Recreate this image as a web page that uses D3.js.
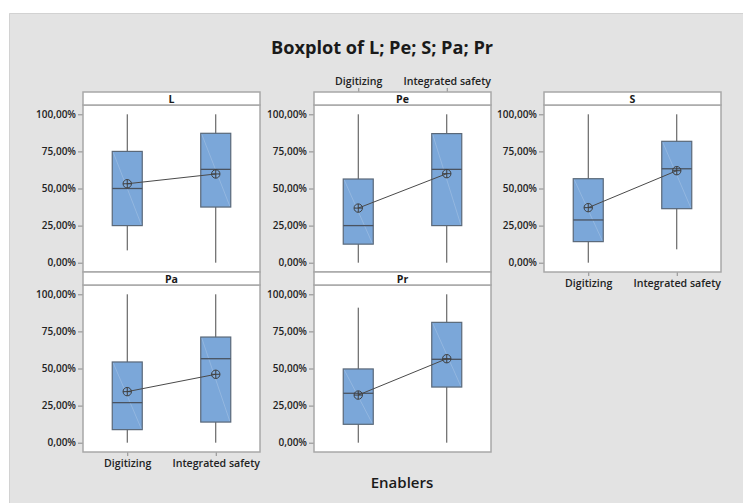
<!DOCTYPE html>
<html>
<head>
<meta charset="utf-8">
<script src="https://cdn.jsdelivr.net/npm/d3@7"></script>
<style>
  html, body { margin: 0; padding: 0; background: #ffffff; }
  svg { display: block; }
  text { font-family: "Open Sans", "Noto Sans", sans-serif; }
</style>
</head>
<body>
<svg id="chart" width="743" height="503"></svg>
<script>
// Groups on the x axis
const categories = ["Digitizing", "Integrated safety"];
// Panels, in drawing order
const panels = ["L", "Pe", "S", "Pa", "Pr"];
// Box statistics per panel, one entry per category (percent)
const whiskerLow  = { L: [8.3, 0],    Pe: [0, 0],     S: [0, 9.0],     Pa: [0, 0],     Pr: [0, 0] };
const q1          = { L: [25, 37.5],  Pe: [12.5, 25], S: [14.2, 36.4], Pa: [8.8, 13.9], Pr: [12.4, 37.5] };
const median      = { L: [50, 62.9],  Pe: [25, 62.9], S: [28.8, 63.3], Pa: [27.0, 56.6], Pr: [33.3, 56.2] };
const q3          = { L: [75, 87.2],  Pe: [56.4, 87], S: [56.6, 81.8], Pa: [54.4, 71.2], Pr: [49.7, 81.1] };
const whiskerHigh = { L: [100, 100],  Pe: [100, 100], S: [100, 100],   Pa: [100, 100],  Pr: [91.0, 100] };
const means       = { L: [53.2, 59.8], Pe: [36.8, 60.0], S: [37.1, 62.0], Pa: [34.4, 46.1], Pr: [32.1, 56.6] };
// Axis ticks
const yTicks = [0, 25, 50, 75, 100];
const yTickLabels = ["0,00%", "25,00%", "50,00%", "75,00%", "100,00%"];

const svg = d3.select("#chart");
const W = 743, H = 503;

// Page background panel
svg.append("rect").attr("x", 9).attr("y", 13).attr("width", W - 9).attr("height", H - 13)
  .attr("fill", "#e3e3e3");
svg.append("path").attr("d", `M9.5,${H} V13.5 H${W}`).attr("fill", "none")
  .attr("stroke", "#d2d2d2").attr("stroke-width", 1);

// Title
svg.append("text").attr("x", 382).attr("y", 53.5).attr("text-anchor", "middle")
  .attr("font-size", 18.2).attr("font-weight", 700).attr("fill", "#1a1a1a")
  .text("Boxplot of L; Pe; S; Pa; Pr");

// x axis title
svg.append("text").attr("x", 402).attr("y", 488).attr("text-anchor", "middle")
  .attr("font-size", 15).attr("font-weight", 600).attr("fill", "#1a1a1a")
  .text("Enablers");

// Panel grid
const colX = [83, 314, 544];
const rowY = [92, 272];
const panelW = 177, stripH = 13, plotH = 167;
const layout = {
  L:  { col: 0, row: 0, xAxis: null },
  Pe: { col: 1, row: 0, xAxis: "top" },
  S:  { col: 2, row: 0, xAxis: "bottom" },
  Pa: { col: 0, row: 1, xAxis: "bottom" },
  Pr: { col: 1, row: 1, xAxis: null }
};

const boxW = 30;
const fmt = d => yTickLabels[yTicks.indexOf(d)];

function styleAxisText(sel, size) {
  sel.selectAll("line").attr("stroke", "#8a8a8a");
  sel.selectAll("text").attr("font-size", size).attr("font-weight", 600).attr("fill", "#222222")
    .attr("font-family", "'Open Sans', sans-serif");
}

panels.forEach(name => {
  const lay = layout[name];
  const x0 = colX[lay.col];
  const sTop = rowY[lay.row];
  const pTop = sTop + stripH;
  const g = svg.append("g").attr("transform", `translate(${x0},${pTop})`);

  const x = d3.scalePoint().domain(categories).range([0, panelW]).padding(0.5);
  const y = d3.scaleLinear().domain([-6.27, 106.27]).range([plotH, 0]);

  // Plot area
  g.append("rect").attr("x", 0).attr("y", 0).attr("width", panelW).attr("height", plotH)
    .attr("fill", "#ffffff");

  // y axis
  const ya = g.append("g").attr("class", "y-axis")
    .call(d3.axisLeft(y).tickValues(yTicks).tickFormat(fmt).tickSize(5).tickPadding(2));
  ya.select(".domain").remove();
  styleAxisText(ya, 10);

  // x axis where present
  if (lay.xAxis === "bottom") {
    const xa = g.append("g").attr("transform", `translate(0,${plotH})`)
      .call(d3.axisBottom(x).tickSize(4).tickPadding(3));
    xa.select(".domain").remove();
    styleAxisText(xa, 10.6);
  } else if (lay.xAxis === "top") {
    const xa = g.append("g").attr("transform", `translate(0,${-stripH})`)
      .call(d3.axisTop(x).tickSize(4).tickPadding(3));
    xa.select(".domain").remove();
    styleAxisText(xa, 10.6);
  }

  // Boxes
  categories.forEach((c, i) => {
    const cx = x(c);
    // whisker
    g.append("line").attr("x1", cx).attr("x2", cx)
      .attr("y1", y(whiskerLow[name][i])).attr("y2", y(whiskerHigh[name][i]))
      .attr("stroke", "#4a4a4a").attr("stroke-width", 1);
    const top = y(q3[name][i]), bot = y(q1[name][i]);
    g.append("rect").attr("x", cx - boxW / 2).attr("y", top)
      .attr("width", boxW).attr("height", bot - top)
      .attr("fill", "#7ba7d9").attr("stroke", "#5a6878").attr("stroke-width", 1.2);
    // light sheen across the box
    g.append("line").attr("x1", cx - boxW / 2 + 1).attr("y1", top + 1)
      .attr("x2", cx + boxW / 2 - 1).attr("y2", bot - 1)
      .attr("stroke", "#b4cdea").attr("stroke-width", 0.7).attr("opacity", 0.6);
    // median
    g.append("line").attr("x1", cx - boxW / 2).attr("x2", cx + boxW / 2)
      .attr("y1", y(median[name][i])).attr("y2", y(median[name][i]))
      .attr("stroke", "#4a5360").attr("stroke-width", 1.3);
  });

  // Mean connect line
  const line = d3.line().x((d, i) => x(categories[i])).y(d => y(d));
  g.append("path").attr("d", line(means[name])).attr("fill", "none")
    .attr("stroke", "#4a4a4a").attr("stroke-width", 1);

  // Mean symbols (circle with cross)
  const r = 4.2;
  means[name].forEach((m, i) => {
    const cx = x(categories[i]), cy = y(m);
    g.append("circle").attr("cx", cx).attr("cy", cy).attr("r", r)
      .attr("fill", "none").attr("stroke", "#3f3f3f").attr("stroke-width", 1);
    g.append("path").attr("d", `M${cx - r},${cy}H${cx + r}M${cx},${cy - r}V${cy + r}`)
      .attr("stroke", "#3f3f3f").attr("stroke-width", 1);
  });

  // Panel frame
  g.append("rect").attr("x", 0).attr("y", 0).attr("width", panelW).attr("height", plotH)
    .attr("fill", "none").attr("stroke", "#a8a8a8").attr("stroke-width", 1.5);

  // Strip
  svg.append("rect").attr("x", x0).attr("y", sTop).attr("width", panelW).attr("height", stripH)
    .attr("fill", "#ffffff").attr("stroke", "#a8a8a8").attr("stroke-width", 1.5);
  svg.append("text").attr("x", x0 + panelW / 2).attr("y", sTop + stripH - 2.5)
    .attr("text-anchor", "middle").attr("font-size", 10.6).attr("font-weight", 700)
    .attr("fill", "#1a1a1a").text(name);
});
</script>
</body>
</html>
